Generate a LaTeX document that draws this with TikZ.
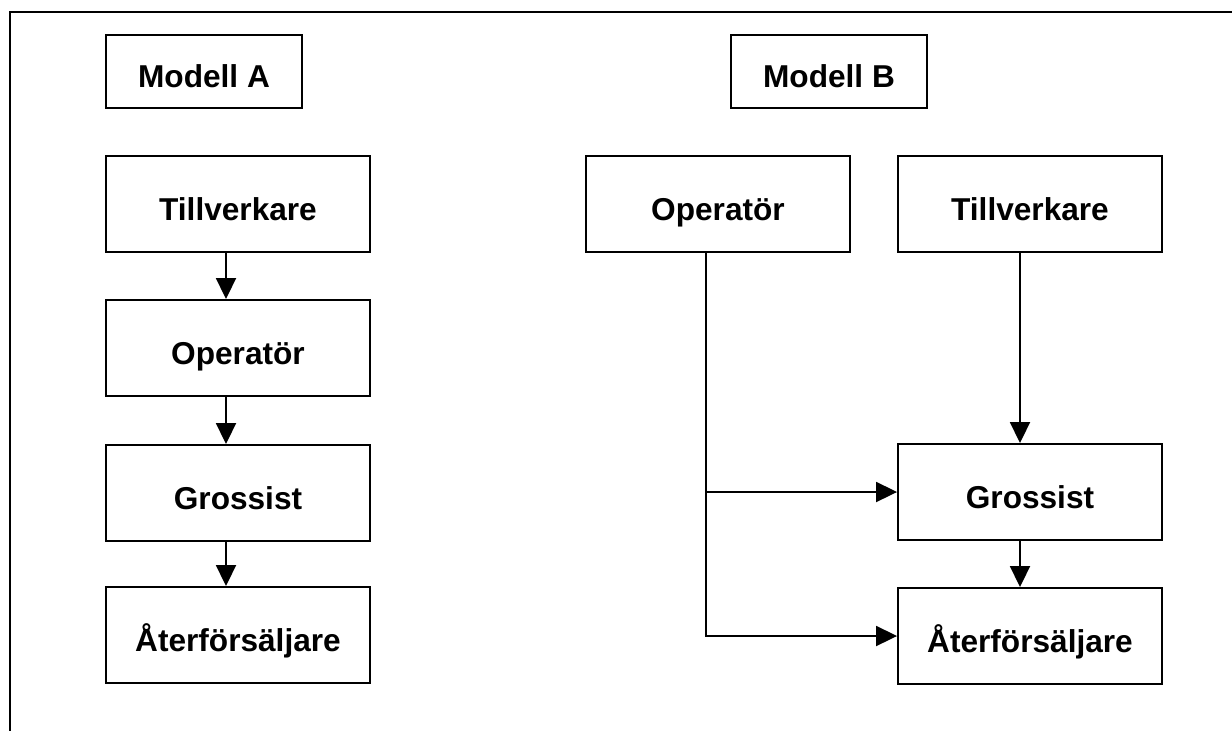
\documentclass[tikz,border=0pt]{standalone}
\usepackage{fontspec}
\setmainfont{Liberation Sans}
\usetikzlibrary{arrows.meta}
\tikzset{>={Triangle[length=0.42cm, width=0.4cm]}}
\tikzset{box/.style = {draw = black, line width = 1.1pt, minimum width = 5.28cm, minimum height = 1.92cm, inner sep = 0pt, text height = 0.64cm, text depth = 0cm, font = \fontsize{18}{21}\selectfont\bfseries}}
\tikzset{headbox/.style = {box, minimum width = 3.92cm, minimum height = 1.46cm}}

\begin{document}
\begin{tikzpicture}[x = 0.02cm, y = -0.02cm, line width = 1.1pt]

\useasboundingbox (0, 0) rectangle (1232, 731);
\draw (1232, 12) -- (10, 12) -- (10, 731);

% model A
\node[headbox] (modA) at (204, 71.5) {Modell A};
\node[box] (tillA) at (238, 204) {Tillverkare};
\node[box] (opA) at (238, 348) {Operatör};
\node[box] (grossA) at (238, 493) {Grossist};
\node[box] (aterA) at (238, 635) {Återförsäljare};

\draw [->] ([xshift = -0.24cm]tillA.south) -- ([xshift = -0.24cm]opA.north);
\draw [->] ([xshift = -0.24cm]opA.south) -- ([xshift = -0.24cm]grossA.north);
\draw [->] ([xshift = -0.24cm]grossA.south) -- ([xshift = -0.24cm]aterA.north);

% model B
\node[headbox] (modB) at (829, 71.5) {Modell B};
\node[box] (opB) at (718, 204) {Operatör};
\node[box] (tillB) at (1030, 204) {Tillverkare};
\node[box] (grossB) at (1030, 492) {Grossist};
\node[box] (aterB) at (1030, 636) {Återförsäljare};

\coordinate (opBout) at ([xshift = -0.24cm]opB.south);
\draw [->] (opBout) |- (aterB.west);
\draw [->] (opBout |- grossB.west) -- (grossB.west);
\draw [->] ([xshift = -0.2cm]tillB.south) -- ([xshift = -0.2cm]grossB.north);
\draw [->] ([xshift = -0.2cm]grossB.south) -- ([xshift = -0.2cm]aterB.north);

\end{tikzpicture}
\end{document}
